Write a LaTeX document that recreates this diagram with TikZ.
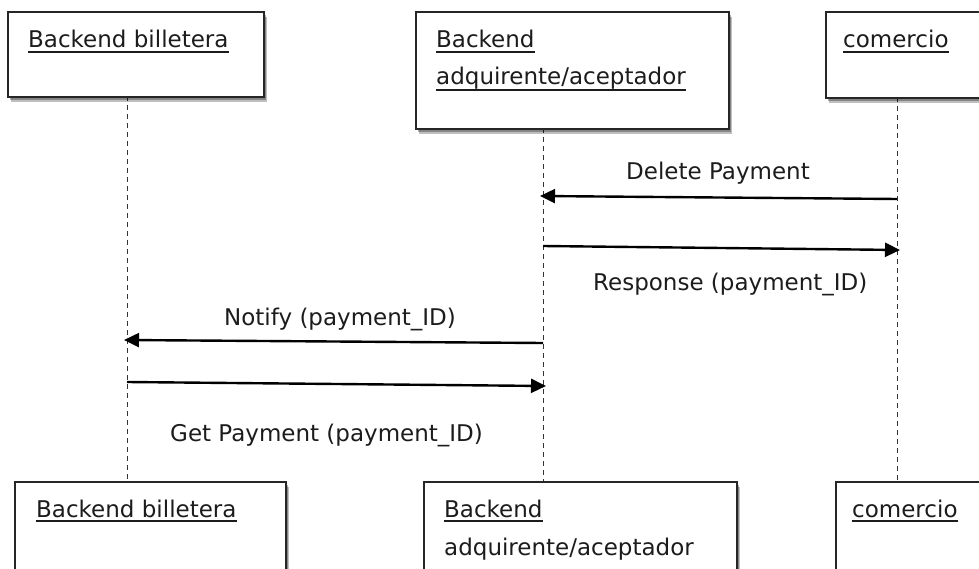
\documentclass[tikz,border=0pt]{standalone}
\usepackage{fontspec}
\setmainfont{DejaVu Sans}
\usetikzlibrary{arrows.meta,shadows}
\definecolor{ink}{HTML}{1C1C1C}
\definecolor{edge}{HTML}{262626}
\tikzset{
  box/.style={draw=edge, line width=1.6pt, fill=white, inner sep=0pt, anchor=north west,
    drop shadow={shadow xshift=3pt, shadow yshift=-5pt, opacity=0.25, fill=black},
    drop shadow={shadow xshift=2pt, shadow yshift=-3pt, opacity=0.3, fill=black}},
  lbl/.style={inner sep=0pt, text=ink, font=\fontsize{23}{28}\selectfont},
  ul/.style={draw=ink, line width=1.2pt},
  life/.style={draw=black!80, line width=1pt, dash pattern=on 5pt off 4pt},
  msg/.style={draw=black, line width=2.4pt, -{Triangle[length=15pt,width=14pt]}}
}
\begin{document}
\begin{tikzpicture}[x=1pt,y=-1pt]
\clip (0,0) rectangle (979,569);
\fill[white] (0,0) rectangle (979,569);

% lifelines (drawn first, boxes on top)
\coordinate (l1t) at (127,96);  \coordinate (l1b) at (127,481);
\coordinate (l2t) at (543,128); \coordinate (l2b) at (543,481);
\coordinate (l3t) at (897,97);  \coordinate (l3b) at (897,481);
\draw[life] (l1t) -- (l1b);
\draw[life] (l2t) -- (l2b);
\draw[life] (l3t) -- (l3b);

% top boxes
\node[box, minimum width=256pt, minimum height=85pt] (tb1) at (7,11) {};
\node[box, minimum width=313pt, minimum height=117pt] (tb2) at (415,11) {};
\node[box, minimum width=200pt, minimum height=86pt] (tb3) at (825,11) {};

% bottom boxes
\node[box, minimum width=271pt, minimum height=120pt] (bb1) at (14,481) {};
\node[box, minimum width=313pt, minimum height=120pt] (bb2) at (423,481) {};
\node[box, minimum width=200pt, minimum height=120pt] (bb3) at (835,481) {};

% top texts
\node[lbl, anchor=base west] (t1) at (28,48) {Backend billetera};
\node[lbl, anchor=base west] (t2a) at (436,48) {Backend};
\node[lbl, anchor=base west] (t2b) at (436,85) {adquirente/aceptador};
\node[lbl, anchor=base west] (t3) at (843,48) {comercio};
\draw[ul] ([yshift=-4pt]t1.base west) -- ([yshift=-4pt]t1.base east);
\draw[ul] ([yshift=-4pt]t2a.base west) -- ([yshift=-4pt]t2a.base east);
\draw[ul] ([yshift=-5pt]t2b.base west) -- ([yshift=-5pt]t2b.base east);
\draw[ul] ([yshift=-4pt]t3.base west) -- ([yshift=-4pt]t3.base east);

% bottom texts
\node[lbl, anchor=base west] (u1) at (36,517) {Backend billetera};
\node[lbl, anchor=base west] (u2a) at (444,517) {Backend};
\node[lbl, anchor=base west] (u2b) at (444,555) {adquirente/aceptador};
\node[lbl, anchor=base west] (u3) at (852,517) {comercio};
\draw[ul] ([yshift=-4pt]u1.base west) -- ([yshift=-4pt]u1.base east);
\draw[ul] ([yshift=-4pt]u2a.base west) -- ([yshift=-4pt]u2a.base east);
\draw[ul] ([yshift=-4pt]u3.base west) -- ([yshift=-4pt]u3.base east);

% message end points
\coordinate (m1s) at (897,199); \coordinate (m1e) at (540,196);
\coordinate (m2s) at (543,246); \coordinate (m2e) at (900,250);
\coordinate (m3s) at (543,343); \coordinate (m3e) at (124,340);
\coordinate (m4s) at (127,382); \coordinate (m4e) at (546,386);

\draw[msg] (m1s) -- (m1e);
\draw[msg] (m2s) -- (m2e);
\draw[msg] (m3s) -- (m3e);
\draw[msg] (m4s) -- (m4e);

% message labels
\node[lbl, anchor=base] (ml1) at (718,180) {Delete Payment};
\node[lbl, anchor=base west] (ml2) at (593,290) {Response (payment\_ID)};
\node[lbl, anchor=base west] (ml3) at (224,325) {Notify (payment\_ID)};
\node[lbl, anchor=base west] (ml4) at (170,441) {Get Payment (payment\_ID)};
\end{tikzpicture}
\end{document}
